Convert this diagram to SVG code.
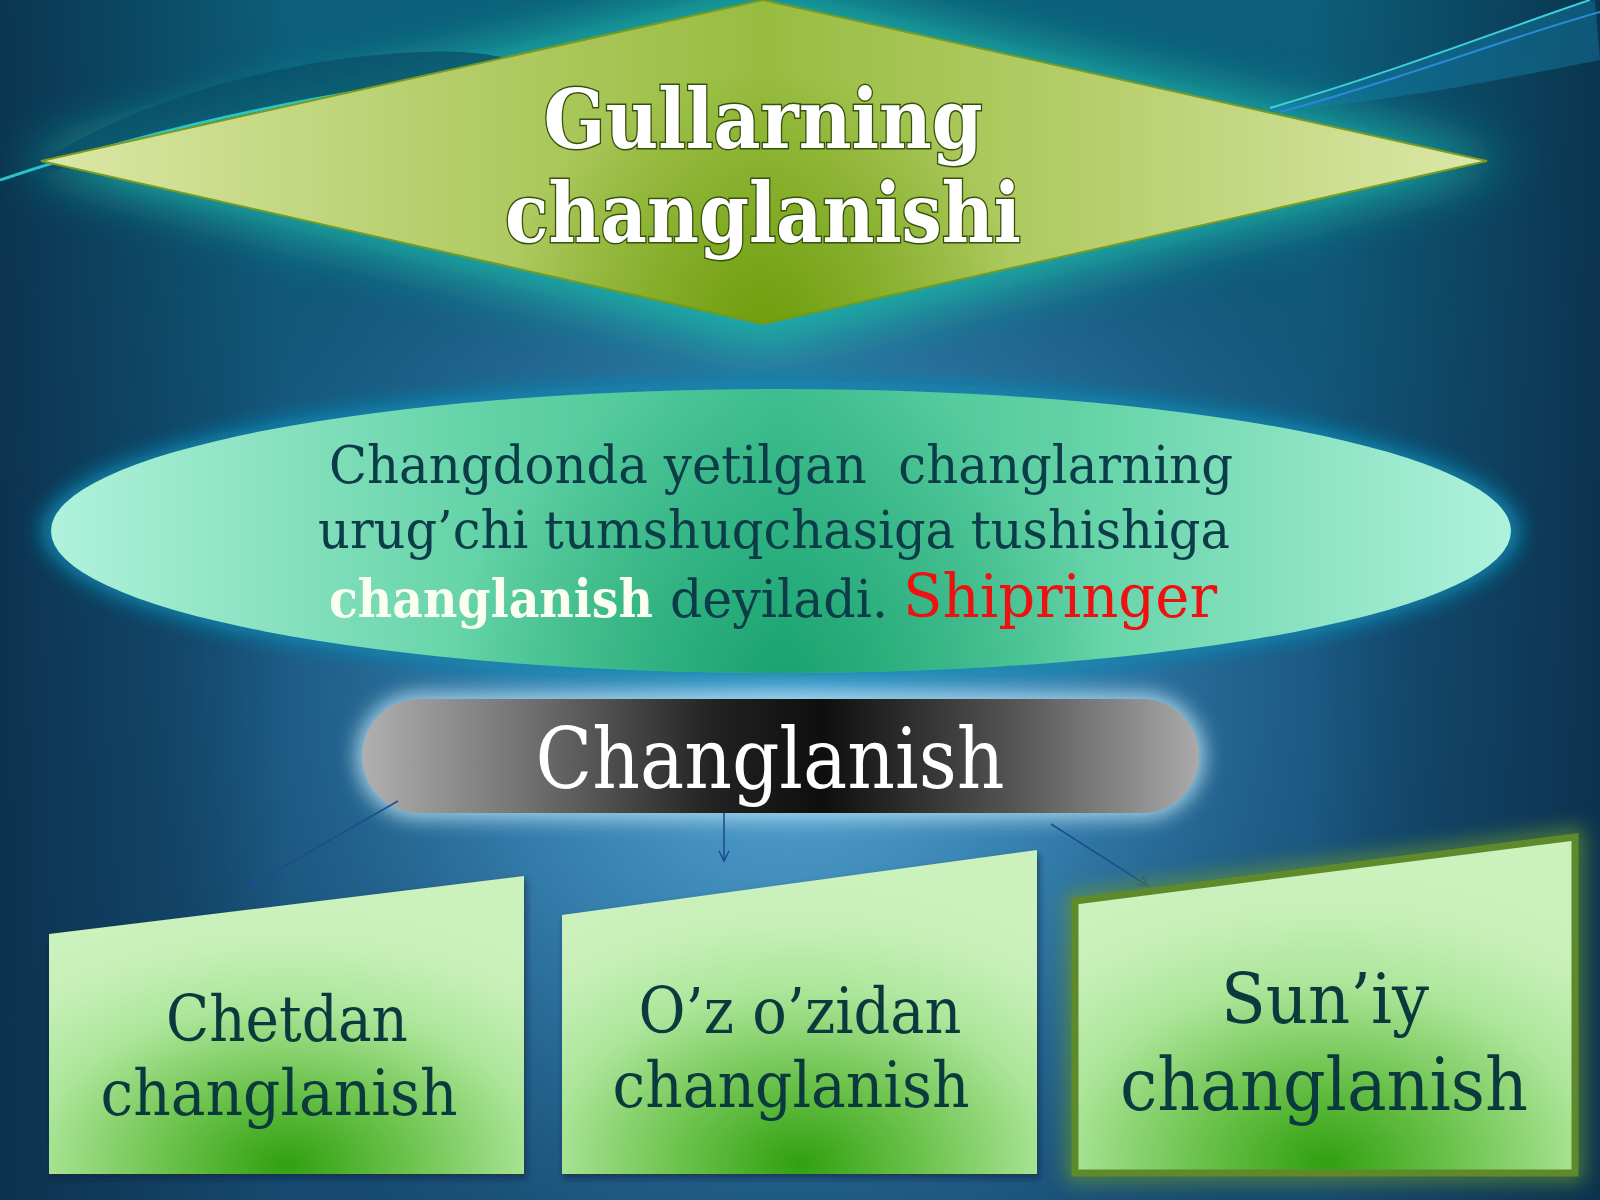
<svg xmlns="http://www.w3.org/2000/svg" width="1600" height="1200" viewBox="0 0 1600 1200">
<defs>
  <linearGradient id="bgBase" x1="0" y1="0" x2="0" y2="1">
    <stop offset="0" stop-color="#0c5f7a"/>
    <stop offset="0.5" stop-color="#16527a"/>
    <stop offset="1" stop-color="#164a70"/>
  </linearGradient>
  <radialGradient id="bgLight" cx="790" cy="720" r="640" gradientUnits="userSpaceOnUse">
    <stop offset="0" stop-color="#58a8d8" stop-opacity="1"/>
    <stop offset="0.45" stop-color="#3b88b8" stop-opacity="0.8"/>
    <stop offset="1" stop-color="#2a6a98" stop-opacity="0"/>
  </radialGradient>
  <linearGradient id="vignette" x1="0" y1="0" x2="1" y2="0">
    <stop offset="0" stop-color="#0a2e48" stop-opacity="0.85"/>
    <stop offset="0.18" stop-color="#0a2e48" stop-opacity="0"/>
    <stop offset="0.82" stop-color="#0a2e48" stop-opacity="0"/>
    <stop offset="1" stop-color="#0a2e48" stop-opacity="0.85"/>
  </linearGradient>
  <linearGradient id="diaFill" x1="0" y1="0" x2="1" y2="0">
    <stop offset="0" stop-color="#dce8a8"/>
    <stop offset="0.3" stop-color="#b2cc66"/>
    <stop offset="0.5" stop-color="#98bc40"/>
    <stop offset="0.7" stop-color="#b2cc66"/>
    <stop offset="1" stop-color="#dce8a8"/>
  </linearGradient>
  <radialGradient id="diaShade" cx="763" cy="330" r="260" gradientUnits="userSpaceOnUse">
    <stop offset="0" stop-color="#6a9a08" stop-opacity="0.9"/>
    <stop offset="1" stop-color="#6a9a08" stop-opacity="0"/>
  </radialGradient>
  <linearGradient id="ellFill" x1="0" y1="0" x2="1" y2="0">
    <stop offset="0" stop-color="#b0f2dc"/>
    <stop offset="0.3" stop-color="#62d2a6"/>
    <stop offset="0.5" stop-color="#42c092"/>
    <stop offset="0.7" stop-color="#62d2a6"/>
    <stop offset="1" stop-color="#b0f2dc"/>
  </linearGradient>
  <radialGradient id="ellShade" cx="781" cy="690" r="330" gradientUnits="userSpaceOnUse">
    <stop offset="0" stop-color="#109a66" stop-opacity="0.8"/>
    <stop offset="1" stop-color="#109a66" stop-opacity="0"/>
  </radialGradient>
  <linearGradient id="pillFill" x1="0" y1="0" x2="1" y2="0">
    <stop offset="0" stop-color="#b0b0b0"/>
    <stop offset="0.2" stop-color="#707070"/>
    <stop offset="0.42" stop-color="#222222"/>
    <stop offset="0.55" stop-color="#0e0e0e"/>
    <stop offset="0.78" stop-color="#555555"/>
    <stop offset="1" stop-color="#aaaaaa"/>
  </linearGradient>
  <radialGradient id="boxFill" cx="0.5" cy="0.95" r="0.85" fx="0.5" fy="0.97">
    <stop offset="0" stop-color="#30a010"/>
    <stop offset="0.3" stop-color="#6cc24c"/>
    <stop offset="0.62" stop-color="#ace69a"/>
    <stop offset="0.85" stop-color="#c6efb6"/>
    <stop offset="1" stop-color="#cbf1bc"/>
  </radialGradient>
  <filter id="glowTeal" x="-20%" y="-40%" width="140%" height="180%">
    <feGaussianBlur stdDeviation="26"/>
  </filter>
  <filter id="glowSoft" x="-20%" y="-40%" width="140%" height="180%">
    <feGaussianBlur stdDeviation="10"/>
  </filter>
  <filter id="shadow" x="-10%" y="-10%" width="120%" height="130%">
    <feDropShadow dx="2" dy="4" stdDeviation="3" flood-color="#0a2030" flood-opacity="0.6"/>
  </filter>
  <marker id="arr" viewBox="0 0 12 12" refX="11" refY="6" markerWidth="12" markerHeight="12" markerUnits="userSpaceOnUse" orient="auto">
    <path d="M1,1 L11,6 L1,11" fill="none" stroke="#1d4f8c" stroke-width="1.6"/>
  </marker>
  <style>
    .serif { font-family: "DejaVu Serif", "Liberation Serif", serif; }
    .title { font-size: 82px; font-weight: bold; fill: #ffffff; stroke: #36520c; stroke-width: 3; paint-order: stroke; text-anchor: middle; }
    .body { font-size: 52px; fill: #0c3c48; }
    .key { font-size: 52px; font-weight: bold; fill: #fbfff0; }
    .author { font-size: 60px; fill: #ee1111; }
    .boxText { font-size: 64px; fill: #0a3a3e; text-anchor: middle; }
    .conn { stroke: #1d4f8c; stroke-width: 1.6; fill: none; marker-end: url(#arr); }
  </style>
</defs>

<!-- background -->
<rect x="0" y="0" width="1600" height="1200" fill="url(#bgBase)"/>
<rect x="0" y="0" width="1600" height="1200" fill="url(#bgLight)"/>
<rect x="0" y="0" width="1600" height="1200" fill="url(#vignette)"/>
<polygon points="20,161 763,-15 1510,161 763,350" fill="#1cb8a8" opacity="0.95" filter="url(#glowTeal)"/>
<!-- top-left wave -->
<path d="M40,162 C140,100 280,58 420,52 C460,50 490,54 505,58 L380,90 C250,115 120,150 30,178 Z" fill="#0a4e68" opacity="0.75"/>
<path d="M0,180 C120,140 250,108 380,88" fill="none" stroke="#2ad4d4" stroke-width="3" opacity="0.9"/>
<!-- top-right lines -->
<path d="M1270,110 C1400,70 1500,30 1595,0 L1600,60 C1500,80 1400,100 1270,112 Z" fill="#1580a8" opacity="0.45"/>
<path d="M1270,108 C1400,70 1500,30 1590,0" fill="none" stroke="#3ed0e0" stroke-width="2"/>
<path d="M1280,112 C1400,80 1500,40 1600,12" fill="none" stroke="#2a8ad8" stroke-width="2"/>

<!-- Diamond node -->
<g id="title-node">
  <polygon points="41,161 763,0 1487,161 763,324" fill="url(#diaFill)" stroke="#7a9a20" stroke-width="2"/>
  <polygon points="41,161 763,0 1487,161 763,324" fill="url(#diaShade)"/>
  <text class="serif title" x="763" y="148" textLength="439" lengthAdjust="spacingAndGlyphs">Gullarning</text>
  <text class="serif title" x="763" y="242" textLength="516" lengthAdjust="spacingAndGlyphs">changlanishi</text>
</g>

<!-- Ellipse definition node -->
<g id="definition-node">
  <ellipse cx="781" cy="531" rx="740" ry="150" fill="#0e88b0" opacity="0.9" filter="url(#glowSoft)"/>
  <ellipse cx="781" cy="531" rx="730" ry="142" fill="url(#ellFill)"/>
  <ellipse cx="781" cy="531" rx="730" ry="142" fill="url(#ellShade)"/>
  <text class="serif body" x="329" y="483" textLength="904" lengthAdjust="spacingAndGlyphs">Changdonda yetilgan&#160; changlarning</text>
  <text class="serif body" x="318" y="548" textLength="912" lengthAdjust="spacingAndGlyphs">urug’chi tumshuqchasiga tushishiga</text>
  <text class="serif key" x="329" y="617" textLength="324" lengthAdjust="spacingAndGlyphs">changlanish</text>
  <text class="serif body" x="670" y="617" textLength="218" lengthAdjust="spacingAndGlyphs">deyiladi.</text>
  <text class="serif author" x="903" y="617" textLength="314" lengthAdjust="spacingAndGlyphs">Shipringer</text>
</g>

<!-- Changlanish pill node -->
<g id="changlanish-node">
  <rect x="356" y="693" width="849" height="126" rx="63" fill="#bfe6f6" opacity="0.8" filter="url(#glowSoft)"/>
  <rect x="362" y="699" width="837" height="114" rx="57" fill="url(#pillFill)"/>
  <text class="serif" x="770" y="788" font-size="84" fill="#ffffff" text-anchor="middle" textLength="469" lengthAdjust="spacingAndGlyphs">Changlanish</text>
</g>

<!-- connectors -->
<g id="connectors">
  <line class="conn" x1="398" y1="801" x2="250" y2="886"/>
  <line class="conn" x1="724" y1="813" x2="724" y2="861"/>
  <line class="conn" x1="1051" y1="824" x2="1148" y2="886"/>
</g>

<!-- boxes -->
<g id="box-chetdan">
  <polygon points="49,934 524,876 524,1174 49,1174" fill="url(#boxFill)" filter="url(#shadow)"/>
  <text class="serif boxText" x="287" y="1041" textLength="242" lengthAdjust="spacingAndGlyphs">Chetdan</text>
  <text class="serif boxText" x="279" y="1115" textLength="357" lengthAdjust="spacingAndGlyphs">changlanish</text>
</g>
<g id="box-ozozidan">
  <polygon points="562,915 1037,850 1037,1174 562,1174" fill="url(#boxFill)" filter="url(#shadow)"/>
  <text class="serif boxText" x="800" y="1033" textLength="323" lengthAdjust="spacingAndGlyphs">O’z o’zidan</text>
  <text class="serif boxText" x="791" y="1107" textLength="357" lengthAdjust="spacingAndGlyphs">changlanish</text>
</g>
<g id="box-suniy">
  <polygon points="1075,901 1575,837 1575,1173 1075,1173" fill="none" stroke="#6a9a30" stroke-width="16" opacity="0.8" filter="url(#glowSoft)"/>
  <polygon points="1075,901 1575,837 1575,1173 1075,1173" fill="url(#boxFill)" stroke="#5e8a2c" stroke-width="7"/>
  <text class="serif boxText" x="1325" y="1023" style="font-size:70px" textLength="208" lengthAdjust="spacingAndGlyphs">Sun’iy</text>
  <text class="serif boxText" x="1324" y="1110" style="font-size:72px" textLength="408" lengthAdjust="spacingAndGlyphs">changlanish</text>
</g>
</svg>
